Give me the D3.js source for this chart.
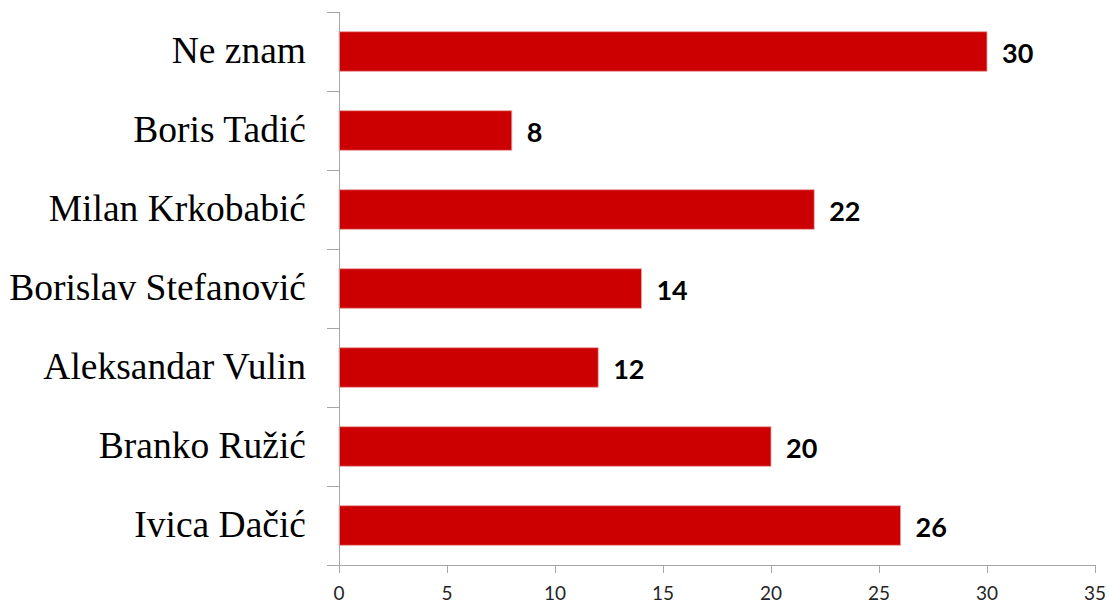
<!DOCTYPE html>
<html><head><meta charset="utf-8">
<script src="https://cdn.jsdelivr.net/npm/d3@7"></script>
<style>body{margin:0;background:#fff}</style>
</head><body>
<svg id="c" width="1109" height="605"></svg>
<script>
const categories = ["Ne znam","Boris Tadić","Milan Krkobabić","Borislav Stefanović","Aleksandar Vulin","Branko Ružić","Ivica Dačić"];
const values = [30,8,22,14,12,20,26];
const xTicks = [0,5,10,15,20,25,30,35];

const svg = d3.select("#c");
const x = d3.scaleLinear().domain([0,35]).range([339,1095]);
const y = d3.scaleBand().domain(categories).range([12,565]).paddingInner(0.5).paddingOuter(0.25);
const grey = "#a6a6a6";

// bars
svg.selectAll("rect.bar").data(values).join("rect")
  .attr("x", x(0)).attr("y",(d,i)=>y(categories[i]))
  .attr("width", d=>x(d)-x(0)).attr("height", y.bandwidth())
  .attr("fill","#cc0000").attr("stroke","#e8a0a0").attr("stroke-width",0.8);

// value labels
svg.selectAll("text.val").data(values).join("text")
  .attr("x", d=>x(d)+15).attr("y",(d,i)=>y(categories[i])+y.bandwidth()/2+11)
  .attr("font-family","Lato, 'Open Sans', sans-serif")
  .attr("font-weight","bold").attr("font-size",27).attr("fill","#000").text(d=>d);

// y axis line and ticks (between categories)
const yEdges = d3.range(categories.length+1).map(i=>12+i*(553/categories.length));
svg.append("line").attr("x1",339.5).attr("x2",339.5).attr("y1",12).attr("y2",565).attr("stroke",grey);
svg.selectAll("line.yt").data(yEdges).join("line")
  .attr("x1",327).attr("x2",339.5).attr("y1",d=>Math.round(d)+0.5).attr("y2",d=>Math.round(d)+0.5).attr("stroke",grey);

// category labels
svg.selectAll("text.cat").data(categories).join("text")
  .attr("x",306).attr("y",d=>y(d)+y.bandwidth()/2+11.5)
  .attr("text-anchor","end")
  .attr("font-family","'Liberation Serif','Times New Roman',serif").attr("font-size",37.5)
  .attr("fill","#000").text(d=>d);

// x axis
svg.append("line").attr("x1",339).attr("x2",1095.5).attr("y1",565.5).attr("y2",565.5).attr("stroke",grey);
svg.selectAll("line.xt").data(xTicks).join("line")
  .attr("x1",d=>Math.round(x(d))+0.5).attr("x2",d=>Math.round(x(d))+0.5)
  .attr("y1",565).attr("y2",573).attr("stroke",grey);
svg.selectAll("text.xl").data(xTicks).join("text")
  .attr("x",d=>x(d)).attr("y",600).attr("text-anchor","middle")
  .attr("font-family","Lato, 'Open Sans', sans-serif").attr("font-size",19).attr("fill","#262626")
  .text(d=>d);
</script>
</body></html>
